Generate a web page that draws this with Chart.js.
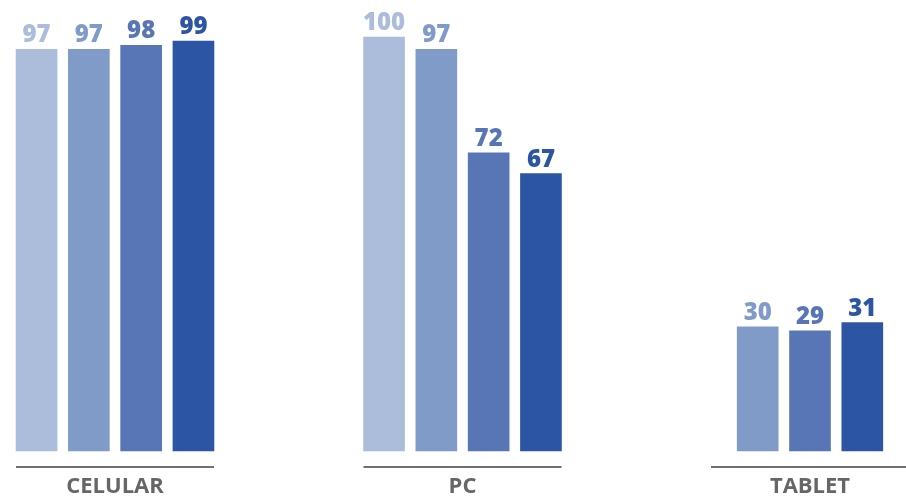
<!DOCTYPE html>
<html>
<head>
<meta charset="utf-8">
<style>
  html, body { margin: 0; padding: 0; background: #fff; }
  #wrap { width: 906px; height: 497px; position: relative; }
</style>
<script src="https://cdn.jsdelivr.net/npm/chart.js@4/dist/chart.umd.min.js"></script>
</head>
<body>
<div id="wrap"><canvas id="chart"></canvas></div>
<script>
// Data
const categories = ['CELULAR', 'PC', 'TABLET'];
const series1 = [97, 100, null];
const series2 = [97, 97, 30];
const series3 = [98, 72, 29];
const series4 = [99, 67, 31];
const colors = ['#acbddb', '#819bc9', '#5876b6', '#2c55a4'];

// Group underline, category names and value labels
const groupDecor = {
    id: 'groupDecor',
    afterDatasetsDraw(chart) {
        const { ctx, scales: { x, y } } = chart;
        ctx.save();

        categories.forEach((cat, i) => {
            const cx = x.getPixelForValue(i);
            ctx.strokeStyle = '#6f6f6f';
            ctx.lineWidth = 2;
            ctx.beginPath();
            ctx.moveTo(cx - 99, y.bottom + 16);
            ctx.lineTo(cx + 99, y.bottom + 16);
            ctx.stroke();

            ctx.fillStyle = '#666666';
            ctx.font = '700 22px "Open Sans"';
            ctx.textAlign = 'center';
            ctx.textBaseline = 'middle';
            ctx.fillText(cat, cx, y.bottom + 36);
        });

        ctx.font = '800 24px "Open Sans"';
        ctx.textAlign = 'center';
        ctx.textBaseline = 'alphabetic';
        chart.data.datasets.forEach((ds, di) => {
            const meta = chart.getDatasetMeta(di);
            meta.data.forEach((bar, i) => {
                if (ds.data[i] === null) return;
                ctx.fillStyle = ds.backgroundColor;
                ctx.fillText(ds.data[i], bar.x, bar.y - 7);
            });
        });
        ctx.restore();
    }
};

const ctx = document.getElementById('chart').getContext('2d');
new Chart(ctx, {
    type: 'bar',
    data: {
        labels: categories,
        datasets: [series1, series2, series3, series4].map((values, i) => ({
            data: values,
            backgroundColor: colors[i],
            barThickness: 52.3,
            maxBarThickness: 41,
            skipNull: true,
            clip: false
        }))
    },
    options: {
        responsive: true,
        maintainAspectRatio: false,
        animation: false,
        layout: {
            padding: { top: 37, bottom: 46, left: 115, right: 96 }
        },
        plugins: {
            legend: { display: false },
            tooltip: { enabled: false }
        },
        scales: {
            x: { display: false, offset: false },
            y: { display: false, min: 0, max: 100 }
        }
    },
    plugins: [groupDecor]
});
</script>
</body>
</html>
